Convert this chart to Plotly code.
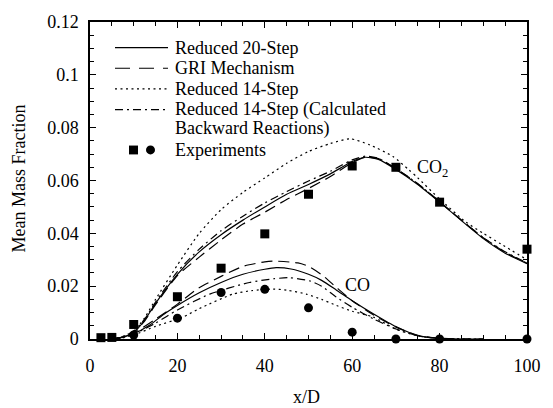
import plotly.graph_objects as go

# ---------------- data ----------------
# CO2 curves
co2_20_x = [5, 7, 10, 12.5, 15, 20, 25, 30, 35, 40, 45, 50, 55, 60, 63, 66, 70, 75, 80, 85, 90, 95, 100]
co2_20_y = [0, 0.0005, 0.0025, 0.0071, 0.0135, 0.0245, 0.033, 0.0395, 0.045, 0.050, 0.0548, 0.0585, 0.0625, 0.0672, 0.0688, 0.068, 0.0642, 0.0585, 0.0518, 0.0448, 0.038, 0.0325, 0.0285]

co2_gri_x = [5, 7, 10, 12.5, 15, 20, 25, 30, 35, 40, 45, 50, 55, 60, 63, 66, 70, 75, 80, 85, 90, 95, 100]
co2_gri_y = [0, 0.0005, 0.0025, 0.0068, 0.013, 0.024, 0.031, 0.0375, 0.0435, 0.048, 0.0528, 0.057, 0.0615, 0.0668, 0.0688, 0.0683, 0.0645, 0.0588, 0.052, 0.045, 0.0383, 0.0328, 0.0287]

co2_14_x = [5, 7, 10, 12.5, 15, 20, 25, 30, 35, 40, 45, 50, 55, 59.5, 64, 69.4, 73, 75, 80, 86, 90, 94, 100]
co2_14_y = [0, 0.0007, 0.003, 0.008, 0.015, 0.028, 0.040, 0.049, 0.0555, 0.061, 0.0665, 0.071, 0.074, 0.0758, 0.0735, 0.069, 0.064, 0.061, 0.053, 0.0443, 0.040, 0.036, 0.030]

co2_14b_x = [5, 7, 10, 12.5, 15, 20, 25, 30, 35, 40, 45, 50, 55, 60, 63, 66, 70, 75, 80, 85, 90, 95, 100]
co2_14b_y = [0, 0.0006, 0.003, 0.0075, 0.014, 0.0255, 0.034, 0.041, 0.0465, 0.0515, 0.0558, 0.0598, 0.0635, 0.0678, 0.0692, 0.0684, 0.0645, 0.0588, 0.052, 0.045, 0.0384, 0.033, 0.0288]

# CO curves
co_20_x = [5, 7, 10, 13.6, 17, 20, 25, 30, 35, 40, 42.6, 46, 50, 53, 56.4, 60, 65, 70, 75, 80, 85, 90]
co_20_y = [0, 0.0005, 0.002, 0.0052, 0.0095, 0.0127, 0.0175, 0.0214, 0.0245, 0.0264, 0.027, 0.0265, 0.0245, 0.0222, 0.0185, 0.0145, 0.0094, 0.0047, 0.0013, 0.0002, 0, 0]

co_gri_x = [5, 7, 10, 15, 20, 24.6, 30, 35, 40, 42, 47.6, 50, 53.3, 56.4, 60, 65, 70, 75, 80, 85, 90]
co_gri_y = [0, 0.0005, 0.0022, 0.0075, 0.0132, 0.019, 0.0237, 0.0275, 0.0292, 0.0295, 0.0288, 0.0275, 0.024, 0.0195, 0.0145, 0.009, 0.0045, 0.0014, 0.0003, 0, 0]

co_14_x = [5, 7, 10, 15, 21.3, 25, 32.7, 37, 41.9, 45, 49.5, 53, 56.4, 60, 64.8, 70, 75, 80, 85, 90]
co_14_y = [0, 0.0003, 0.0015, 0.0048, 0.0083, 0.0115, 0.017, 0.0183, 0.0189, 0.0185, 0.017, 0.015, 0.0127, 0.0105, 0.0083, 0.0037, 0.0012, 0.0002, 0, 0]

co_14b_x = [5, 7, 10, 15, 20, 27.4, 36.5, 42, 45.7, 50.3, 53, 56.4, 60, 65, 70, 75, 80, 85, 90]
co_14b_y = [0, 0.0004, 0.0018, 0.006, 0.011, 0.017, 0.0214, 0.0228, 0.0232, 0.022, 0.020, 0.0158, 0.012, 0.0075, 0.0038, 0.0012, 0.0003, 0, 0]

# Experiments
exp_co2_x = [2.5, 5, 10, 20, 30, 40, 50, 60, 70, 80, 100]
exp_co2_y = [0.0005, 0.0006, 0.0055, 0.016, 0.0268, 0.0398, 0.0548, 0.0655, 0.065, 0.0518, 0.034]
exp_co_x = [10, 20, 30, 40, 50, 60, 70, 80, 100]
exp_co_y = [0.0015, 0.0079, 0.0176, 0.0188, 0.0118, 0.0026, 0.0, 0.0, 0.0]

legend_labels = ["Reduced 20-Step", "GRI Mechanism", "Reduced 14-Step",
                 "Reduced 14-Step (Calculated", "Backward Reactions)", "Experiments"]
x_ticks = [0, 20, 40, 60, 80, 100]
y_ticks = [0, 0.02, 0.04, 0.06, 0.08, 0.1, 0.12]
y_tick_text = ["0", "0.02", "0.04", "0.06", "0.08", "0.1", "0.12"]

# ---------------- figure ----------------
FONT = "Liberation Serif, Times New Roman, serif"
LW = 1.2
DASH = {"solid": "solid", "gri": "11px,6px", "dot": "2px,3.5px", "dashdot": "8px,4px,2px,4px"}

fig = go.Figure()

def add_line(x, y, dash):
    fig.add_trace(go.Scatter(x=x, y=y, mode="lines", line=dict(color="black", width=LW, dash=dash,
                                                                  shape="spline", smoothing=0.6),
                             showlegend=False, hoverinfo="skip"))

add_line(co2_20_x, co2_20_y, DASH["solid"])
add_line(co2_gri_x, co2_gri_y, DASH["gri"])
add_line(co2_14_x, co2_14_y, DASH["dot"])
add_line(co2_14b_x, co2_14b_y, DASH["dashdot"])
add_line(co_20_x, co_20_y, DASH["solid"])
add_line(co_gri_x, co_gri_y, DASH["gri"])
add_line(co_14_x, co_14_y, DASH["dot"])
add_line(co_14b_x, co_14b_y, DASH["dashdot"])

fig.add_trace(go.Scatter(x=exp_co2_x, y=exp_co2_y, mode="markers",
                         marker=dict(symbol="square", size=9, color="black"),
                         cliponaxis=False, showlegend=False))
fig.add_trace(go.Scatter(x=exp_co_x, y=exp_co_y, mode="markers",
                         marker=dict(symbol="circle", size=9, color="black"),
                         cliponaxis=False, showlegend=False))

# plot area in pixels
L, R, T, B = 90, 26, 17, 69
W, H = 553, 408
pw, ph = W - L - R, H - T - B

def px(xp):
    return (xp - L) / pw

def py(yp):
    return (H - B - yp) / ph

# manual legend
rows = [43, 64, 85, 106, 125, 147]
styles = [DASH["solid"], "15px,9px", DASH["dot"], DASH["dashdot"]]
for yy, st in zip(rows[:4], styles):
    fig.add_shape(type="line", xref="paper", yref="paper", x0=px(115), x1=px(168),
                  y0=py(yy), y1=py(yy), line=dict(color="black", width=LW, dash=st))
for yy, txt in zip(rows, legend_labels):
    fig.add_annotation(xref="paper", yref="paper", x=px(173), y=py(yy), text=txt,
                       showarrow=False, xanchor="left", yanchor="middle",
                       font=dict(family=FONT, size=18, color="black"))
# legend symbols (square + circle) as shapes
ey = rows[5]
fig.add_shape(type="rect", xref="paper", yref="paper",
              x0=px(129), x1=px(138), y0=py(ey + 4.5), y1=py(ey - 4.5),
              line=dict(width=0), fillcolor="black")
fig.add_shape(type="circle", xref="paper", yref="paper",
              x0=px(146), x1=px(155), y0=py(ey + 4.5), y1=py(ey - 4.5),
              line=dict(width=0), fillcolor="black")

# curve labels
fig.add_annotation(x=78.3, y=0.0645, text="CO<sub>2</sub>", showarrow=False,
                   font=dict(family=FONT, size=18, color="black"))
fig.add_annotation(x=61.3, y=0.0203, text="CO", showarrow=False,
                   font=dict(family=FONT, size=18, color="black"))

# axis titles
fig.add_annotation(xref="paper", yref="paper", x=px(306), y=py(398), text="x/D",
                   showarrow=False, xanchor="center", yanchor="middle",
                   font=dict(family=FONT, size=18, color="black"))
fig.add_annotation(xref="paper", yref="paper", x=px(19), y=py(176), text="Mean Mass Fraction",
                   showarrow=False, xanchor="center", yanchor="middle", textangle=-90,
                   font=dict(family=FONT, size=18, color="black"))

axis_common = dict(showline=True, linecolor="black", linewidth=1.5, mirror="ticks",
                   ticks="inside", tickcolor="black", tickwidth=1, showgrid=False,
                   zeroline=False, tickfont=dict(family=FONT, size=18, color="black"))

fig.update_xaxes(range=[0, 100], tickvals=x_ticks, ticklen=6, ticklabelstandoff=10,
                 minor=dict(dtick=5, tick0=0, ticks="inside", ticklen=4, tickcolor="black"),
                 **axis_common)
fig.update_yaxes(range=[0, 0.12], tickvals=y_ticks, ticktext=y_tick_text, ticklen=6,
                 ticklabelstandoff=6,
                 minor=dict(dtick=0.005, tick0=0, ticks="inside", ticklen=4, tickcolor="black"),
                 **axis_common)

fig.update_layout(width=W, height=H, margin=dict(l=L, r=R, t=T, b=B),
                  paper_bgcolor="white", plot_bgcolor="white", showlegend=False)

fig.write_html("out.html")
